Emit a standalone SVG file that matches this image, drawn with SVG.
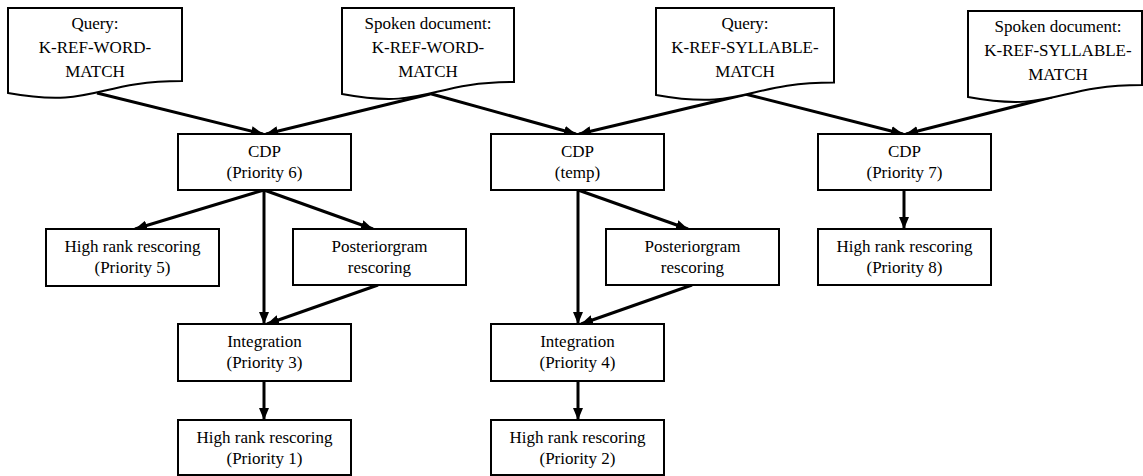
<svg xmlns="http://www.w3.org/2000/svg" width="1143" height="476" viewBox="0 0 1143 476">
<defs>
<style>
.shape{fill:#fff;stroke:#000;stroke-width:2}
text{font-family:'Liberation Serif','DejaVu Serif','Times New Roman',serif;font-size:17px;fill:#000;text-anchor:middle}
.c{stroke:#000;stroke-width:3;fill:none;marker-end:url(#ah)}
</style>
<marker id="ah" viewBox="0 0 12 10" refX="12" refY="5" markerWidth="12" markerHeight="10" markerUnits="userSpaceOnUse" orient="auto">
<path d="M0,0 L12,5 L0,10 Z" fill="#000"/>
</marker>
</defs>
<rect width="1143" height="476" fill="#fff"/>
<g id="connectors">
<line class="c" x1="97" y1="93" x2="263" y2="134"/>
<line class="c" x1="430" y1="94" x2="266" y2="134"/>
<line class="c" x1="428" y1="93" x2="576" y2="134"/>
<line class="c" x1="747" y1="94" x2="579" y2="134"/>
<line class="c" x1="745" y1="94" x2="903" y2="134"/>
<line class="c" x1="1052" y1="97" x2="906" y2="134"/>
<line class="c" x1="264" y1="190" x2="135" y2="229"/>
<line class="c" x1="264" y1="190" x2="264" y2="324"/>
<line class="c" x1="264" y1="190" x2="373" y2="229"/>
<line class="c" x1="378" y1="285" x2="267" y2="324"/>
<line class="c" x1="578" y1="190" x2="578" y2="324"/>
<line class="c" x1="578" y1="190" x2="688" y2="229"/>
<line class="c" x1="692" y1="285" x2="581" y2="324"/>
<line class="c" x1="264" y1="381" x2="264" y2="420"/>
<line class="c" x1="578" y1="381" x2="578" y2="420"/>
<line class="c" x1="904" y1="190" x2="904" y2="229"/>
</g>
<g font-family="Liberation Serif, DejaVu Serif, serif">
<g id="doc1">
<path class="shape" d="M8,8 H182 V81 C95,81 95,108.7 8,93 Z"/>
<text x="95" y="29">Query:</text>
<text x="95" y="53">K-REF-WORD-</text>
<text x="95" y="77">MATCH</text>
</g>
<g id="doc2">
<path class="shape" d="M342,8 H514 V82 C428,82 428,110 342,94 Z"/>
<text x="428" y="29">Spoken document:</text>
<text x="428" y="53">K-REF-WORD-</text>
<text x="428" y="77">MATCH</text>
</g>
<g id="doc3">
<path class="shape" d="M656,8 H834 V82.6 C745,82.6 745,111 656,95 Z"/>
<text x="745" y="29">Query:</text>
<text x="745" y="53">K-REF-SYLLABLE-</text>
<text x="745" y="77">MATCH</text>
</g>
<g id="doc4">
<path class="shape" d="M968,11 H1142 V85 C1055,85 1055,113 968,97 Z"/>
<text x="1058" y="32">Spoken document:</text>
<text x="1058" y="56">K-REF-SYLLABLE-</text>
<text x="1058" y="80">MATCH</text>
</g>
<g id="cdp6">
<rect class="shape" x="178" y="134" width="173" height="56"/>
<text x="264.5" y="157">CDP</text>
<text x="264.5" y="178">(Priority 6)</text>
</g>
<g id="cdptemp">
<rect class="shape" x="491" y="134" width="173" height="56"/>
<text x="577.5" y="157">CDP</text>
<text x="577.5" y="178">(temp)</text>
</g>
<g id="cdp7">
<rect class="shape" x="818" y="134" width="173" height="56"/>
<text x="904.5" y="157">CDP</text>
<text x="904.5" y="178">(Priority 7)</text>
</g>
<g id="hr5">
<rect class="shape" x="46" y="229" width="173" height="57"/>
<text x="132.5" y="252">High rank rescoring</text>
<text x="132.5" y="273">(Priority 5)</text>
</g>
<g id="post1">
<rect class="shape" x="293" y="229" width="173" height="56"/>
<text x="379.5" y="252">Posteriorgram</text>
<text x="379.5" y="273">rescoring</text>
</g>
<g id="post2">
<rect class="shape" x="606" y="229" width="173" height="56"/>
<text x="692.5" y="252">Posteriorgram</text>
<text x="692.5" y="273">rescoring</text>
</g>
<g id="hr8">
<rect class="shape" x="818" y="229" width="173" height="56"/>
<text x="904.5" y="252">High rank rescoring</text>
<text x="904.5" y="273">(Priority 8)</text>
</g>
<g id="int3">
<rect class="shape" x="178" y="324" width="173" height="57"/>
<text x="264.5" y="347">Integration</text>
<text x="264.5" y="368">(Priority 3)</text>
</g>
<g id="int4">
<rect class="shape" x="491" y="324" width="173" height="57"/>
<text x="577.5" y="347">Integration</text>
<text x="577.5" y="368">(Priority 4)</text>
</g>
<g id="hr1">
<rect class="shape" x="178" y="420" width="173" height="55"/>
<text x="264.5" y="443">High rank rescoring</text>
<text x="264.5" y="464">(Priority 1)</text>
</g>
<g id="hr2">
<rect class="shape" x="491" y="420" width="173" height="55"/>
<text x="577.5" y="443">High rank rescoring</text>
<text x="577.5" y="464">(Priority 2)</text>
</g>
</g>
</svg>
